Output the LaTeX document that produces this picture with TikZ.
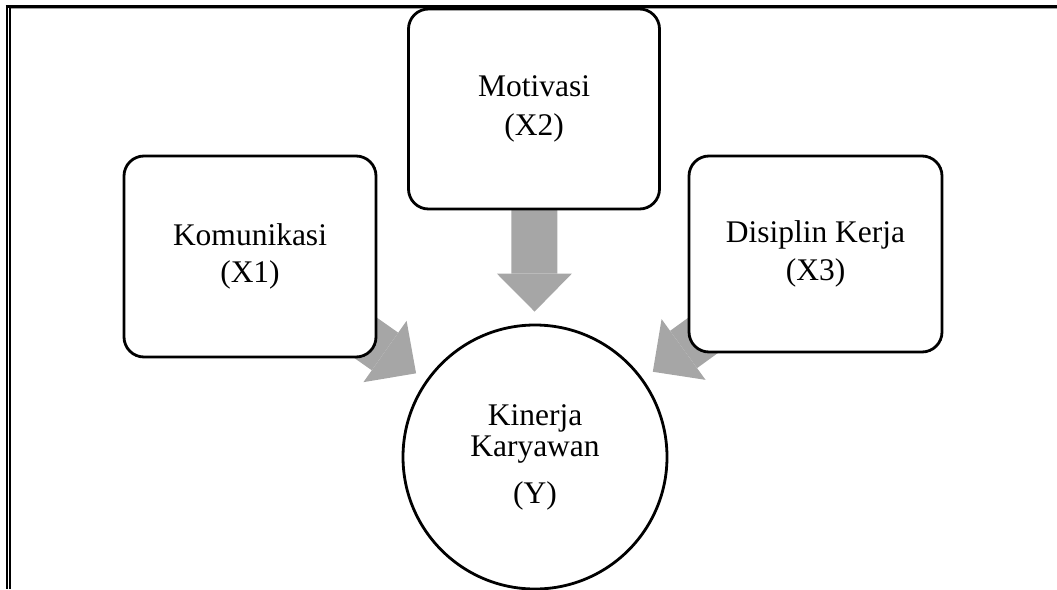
\documentclass[tikz,border=0pt]{standalone}
\usepackage{fontspec}
\setmainfont{Liberation Serif}
\usepackage{tikz}
\usetikzlibrary{arrows.meta,backgrounds}
\definecolor{colorarr}{HTML}{A6A6A6}
\definecolor{colorrule}{HTML}{A0A0A0}
\tikzset{
  boxvar/.style={draw, line width=2.8pt, fill=white, rounded corners=20pt,
    align=center, inner sep=0pt, font=\fontsize{31.5}{31.5}\selectfont},
  circvar/.style={draw, circle, line width=2.8pt, fill=white, align=center,
    inner sep=0pt, minimum size=264pt, font=\fontsize{31.5}{31.5}\selectfont},
  edgebig/.style={colorarr, line width=46pt, shorten >=12pt,
    -{Triangle[width=75pt, length=38pt, line width=0pt]}}
}

\begin{document}
\begin{tikzpicture}[x=1pt, y=-1pt]
\useasboundingbox (0,0) rectangle (1057,589);
% page frame
\draw[line width=3pt] (5.5,6.5) -- (1057,6.5);
\draw[colorrule, line width=1pt] (9,8.5) -- (1057,8.5);
\draw[line width=2.5pt] (7,5) -- (7,589);
\draw[line width=1.2pt] (10,8) -- (10,589);
% variables
\node[boxvar, minimum width=252pt, minimum height=201pt] (komu) at (250,256.5) {Komunikasi\\[6pt](X1)};
\node[boxvar, minimum width=251pt, minimum height=200pt] (moti) at (534,109) {Motivasi\\[8pt](X2)};
\node[boxvar, minimum width=253pt, minimum height=196pt] (disi) at (815.5,254) {Disiplin Kerja\\[7pt](X3)};
\node[circvar] (kin) at (535,457) {Kinerja\\Karyawan\\[15pt](Y)};
% arrows
\begin{scope}[on background layer]
\draw[edgebig] (komu.center) -- (kin);
\draw[edgebig] (moti.center) -- (kin);
\draw[edgebig] (disi.center) -- (kin);
\end{scope}
\end{tikzpicture}
\end{document}
